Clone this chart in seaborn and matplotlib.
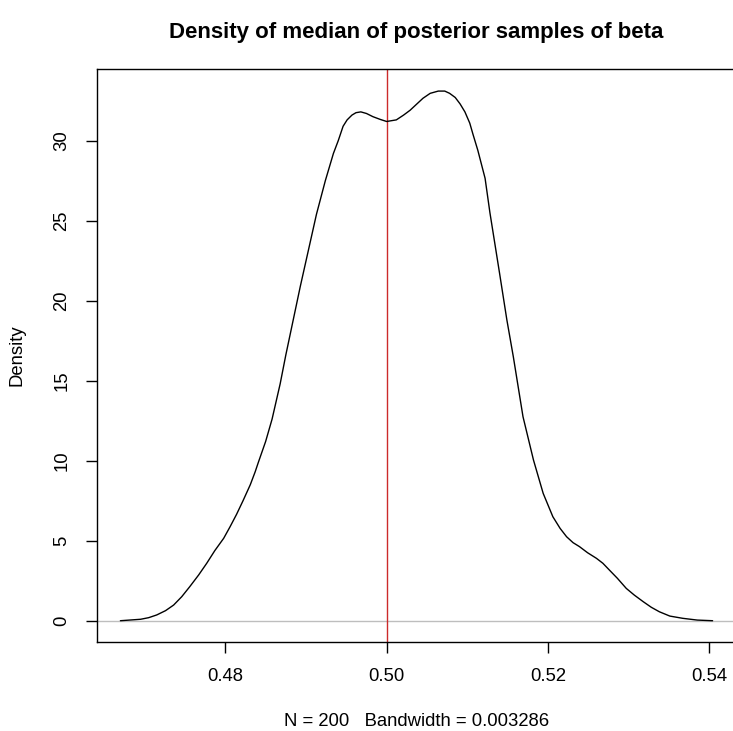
import matplotlib
matplotlib.use("Agg")
import matplotlib.pyplot as plt
import seaborn as sns

# density curve
grid_x = [0.4670, 0.4695, 0.4705, 0.4715, 0.4726, 0.4736, 0.4746, 0.4756,
          0.4767, 0.4777, 0.4787, 0.4798, 0.4806, 0.4814, 0.4822, 0.4831,
          0.4837, 0.4841, 0.4850, 0.4858, 0.4868, 0.4875, 0.4893, 0.4913,
          0.4924, 0.4934, 0.4940, 0.4946, 0.4951, 0.4957, 0.4962, 0.4968,
          0.4975, 0.4983, 0.4992, 0.5000, 0.5012, 0.5021, 0.5029, 0.5045,
          0.5054, 0.5064, 0.5072, 0.5078, 0.5085, 0.5091, 0.5097, 0.5103,
          0.5107, 0.5113, 0.5122, 0.5128, 0.5140, 0.5149, 0.5157, 0.5169,
          0.5182, 0.5194, 0.5206, 0.5215, 0.5223, 0.5231, 0.5239, 0.5249,
          0.5260, 0.5268, 0.5276, 0.5286, 0.5297, 0.5307, 0.5318, 0.5328,
          0.5338, 0.5351, 0.5367, 0.5385, 0.5404]
density = [0.00, 0.09, 0.19, 0.36, 0.63, 0.98, 1.50, 2.13,
           2.86, 3.59, 4.38, 5.15, 5.88, 6.65, 7.50, 8.50,
           9.30, 9.90, 11.20, 12.60, 14.80, 16.60, 20.90, 25.40,
           27.50, 29.20, 30.00, 30.90, 31.30, 31.60, 31.75, 31.80,
           31.70, 31.50, 31.33, 31.20, 31.30, 31.60, 31.90, 32.65,
           32.96, 33.10, 33.10, 32.96, 32.70, 32.30, 31.80, 31.10,
           30.40, 29.40, 27.65, 25.50, 21.70, 18.80, 16.50, 12.75,
           10.04, 7.96, 6.50, 5.77, 5.25, 4.88, 4.63, 4.25,
           3.90, 3.59, 3.17, 2.65, 2.02, 1.60, 1.19, 0.84,
           0.56, 0.29, 0.15, 0.04, 0.00]

true_beta = 0.5
x_ticks = [0.48, 0.50, 0.52, 0.54]
y_ticks = [0, 5, 10, 15, 20, 25, 30]

sns.set_theme(style="ticks")
plt.rcParams["font.family"] = ["Liberation Sans", "DejaVu Sans"]
plt.rcParams["text.color"] = "black"
plt.rcParams["axes.labelcolor"] = "black"

fig = plt.figure(figsize=(7.33, 7.31), dpi=100)
ax = fig.add_axes([97 / 733, 1 - 642 / 731, 639 / 733, 573 / 731])

ax.axhline(0, color="#bebebe", lw=1.0, zorder=1)
sns.lineplot(x=grid_x, y=density, color="black", lw=1.0, ax=ax,
             estimator=None, sort=False, zorder=3)
ax.axvline(true_beta, color="#cc2a2a", lw=1.0, zorder=2)

ax.set_xlim(0.4641, 0.5433)
ax.set_ylim(-1.33, 34.48)
ax.set_xticks(x_ticks)
ax.set_xticklabels([f"{v:.2f}" for v in x_ticks])
ax.set_yticks(y_ticks)
ax.set_yticklabels([str(v) for v in y_ticks], rotation=90, va="center")

for s in ax.spines.values():
    s.set_visible(True)
    s.set_color("black")
    s.set_linewidth(1.0)

ax.tick_params(axis="both", direction="out", length=8, width=1.0,
               color="black", labelsize=13.3, pad=11, labelcolor="black")

ax.set_title("Density of median of posterior samples of beta",
             fontsize=16, fontweight="bold", pad=22, color="black")
ax.set_xlabel("N = 200   Bandwidth = 0.003286", fontsize=13.3, labelpad=20)
ax.set_ylabel("Density", fontsize=13.3, labelpad=20)

fig.savefig("out.png", dpi=100, facecolor="white")
